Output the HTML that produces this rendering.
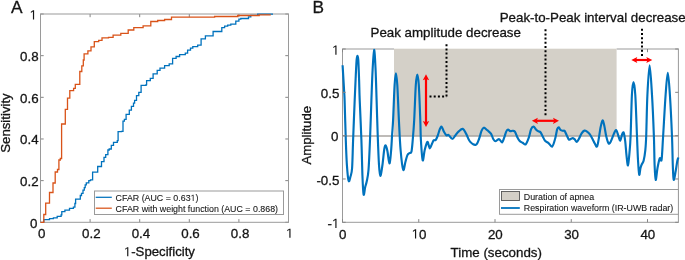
<!DOCTYPE html><html><head><meta charset="utf-8"><style>html,body{margin:0;padding:0;background:#fff;width:685px;height:260px;overflow:hidden}svg{display:block;will-change:transform}text{font-family:"Liberation Sans", sans-serif;fill:#141414;stroke:#141414;stroke-width:0.3px}.lg{stroke-width:0.08px}.o{fill:none;stroke:none}</style></head><body>
<svg width="685" height="260" viewBox="0 0 685 260">
<rect x="0" y="0" width="685" height="260" fill="#fff"/>
<line x1="40.50" y1="222.30" x2="40.50" y2="219.10" stroke="#858585" stroke-width="1"/>
<line x1="40.50" y1="14.00" x2="40.50" y2="17.20" stroke="#858585" stroke-width="1"/>
<line x1="40.50" y1="222.30" x2="43.70" y2="222.30" stroke="#858585" stroke-width="1"/>
<line x1="288.50" y1="222.30" x2="285.30" y2="222.30" stroke="#858585" stroke-width="1"/>
<line x1="90.10" y1="222.30" x2="90.10" y2="219.10" stroke="#858585" stroke-width="1"/>
<line x1="90.10" y1="14.00" x2="90.10" y2="17.20" stroke="#858585" stroke-width="1"/>
<line x1="40.50" y1="180.64" x2="43.70" y2="180.64" stroke="#858585" stroke-width="1"/>
<line x1="288.50" y1="180.64" x2="285.30" y2="180.64" stroke="#858585" stroke-width="1"/>
<line x1="139.70" y1="222.30" x2="139.70" y2="219.10" stroke="#858585" stroke-width="1"/>
<line x1="139.70" y1="14.00" x2="139.70" y2="17.20" stroke="#858585" stroke-width="1"/>
<line x1="40.50" y1="138.98" x2="43.70" y2="138.98" stroke="#858585" stroke-width="1"/>
<line x1="288.50" y1="138.98" x2="285.30" y2="138.98" stroke="#858585" stroke-width="1"/>
<line x1="189.30" y1="222.30" x2="189.30" y2="219.10" stroke="#858585" stroke-width="1"/>
<line x1="189.30" y1="14.00" x2="189.30" y2="17.20" stroke="#858585" stroke-width="1"/>
<line x1="40.50" y1="97.32" x2="43.70" y2="97.32" stroke="#858585" stroke-width="1"/>
<line x1="288.50" y1="97.32" x2="285.30" y2="97.32" stroke="#858585" stroke-width="1"/>
<line x1="238.90" y1="222.30" x2="238.90" y2="219.10" stroke="#858585" stroke-width="1"/>
<line x1="238.90" y1="14.00" x2="238.90" y2="17.20" stroke="#858585" stroke-width="1"/>
<line x1="40.50" y1="55.66" x2="43.70" y2="55.66" stroke="#858585" stroke-width="1"/>
<line x1="288.50" y1="55.66" x2="285.30" y2="55.66" stroke="#858585" stroke-width="1"/>
<line x1="288.50" y1="222.30" x2="288.50" y2="219.10" stroke="#858585" stroke-width="1"/>
<line x1="288.50" y1="14.00" x2="288.50" y2="17.20" stroke="#858585" stroke-width="1"/>
<line x1="40.50" y1="14.00" x2="43.70" y2="14.00" stroke="#858585" stroke-width="1"/>
<line x1="288.50" y1="14.00" x2="285.30" y2="14.00" stroke="#858585" stroke-width="1"/>
<rect x="40.50" y="14.00" width="248.00" height="208.30" fill="none" stroke="#9a9a9a" stroke-width="1"/>
<path d="M43.8,222.3 V219.7 H49.5 V218.6 H53.4 V217.8 H57.2 V216.3 H61.1 V214.8 H61.8 V211.7 H64.9 V210.2 H69.5 V208.3 H73.4 V207.1 H74.9 V203.5 H75.6 V199.1 H80.3 V195.5 H81.5 V193.4 H83 V190.2 H84.3 V187.7 H85.2 V184.9 H86.3 V182.8 H88.8 V180.7 H90.5 V179.8 H92.6 V172.2 H97.7 V166.5 H101.5 V161.6 H104 V157.4 H105.7 V154.7 H107.9 V150 H109.2 V149 H111.3 V145.4 H113.5 V142.3 H117.3 V140.6 H118.1 V131.7 H121.5 V131.3 H123 V121.1 H124.4 V119.4 H126.1 V114.4 H127.8 H129.3 V110.1 H131.4 V106.3 H133.5 V103.2 H134.6 V100.3 H136.5 V95.7 H138.8 V92.3 H141.1 V85.3 H146.1 V84.6 H146.6 V80.7 H150.3 V78.4 H153.1 V73.8 H157.2 V70.4 H160 V68.1 H164.6 V65.7 H169.2 V63.9 H172.6 V58.4 H176.1 V56.5 H179.6 V54.7 H185.3 V53.1 H187.6 V50.1 H190.5 V48.2 H192.8 V46.6 H197.7 V45.1 H201.1 V38.9 H205.4 V35.8 H213.1 V31.5 H221.8 V27.6 H224.6 V26.2 H227.7 V25.1 H230.8 V24.2 H235.8 V21.1 H238.9 V19.2 H240.8 V18.5 H248.5 V16.9 H250.8 V15.4 H257.7 V14.2 H273.0" fill="none" stroke="#0072BD" stroke-width="1.3"/>
<path d="M40.5,222.3 H43.8 V214.5 H45.7 V203.2 H49.5 V192.5 H53 V183 H55.2 V172 H57.5 V169.5 H58.9 V160 H60.3 V158.5 H61.6 V124 H65.3 V109.4 H67.5 V98.2 H69.8 V90.7 H73.6 V88.3 H75.3 V84.3 H79.8 V71.5 H81.8 V65.8 H83.3 V60 H84.1 V53.8 H87.9 V50.8 H91 V46.9 H94.3 V41.7 H98.7 V40.4 H102 V37.9 H108.5 V37.4 H113.1 V35.1 H120.8 V33.4 H128.2 V30 H133.8 V27.7 H143.1 V25.8 H150.8 V21.5 H157.7 V20.5 H164.6 V19.5 H171.5 V17.2 H214.6 V16.5 H237.7 V15.5 H259.2 V14.9 H270.8" fill="none" stroke="#D95319" stroke-width="1.3"/>
<text x="41.70" y="237.80" font-size="13.33" text-anchor="middle">0</text>
<text x="37.40" y="227.70" font-size="13.33" text-anchor="end">0</text>
<text x="91.30" y="237.80" font-size="13.33" text-anchor="middle">0.2</text>
<text x="38.60" y="186.04" font-size="13.33" text-anchor="end">0.2</text>
<text x="140.90" y="237.80" font-size="13.33" text-anchor="middle">0.4</text>
<text x="38.60" y="144.38" font-size="13.33" text-anchor="end">0.4</text>
<text x="190.50" y="237.80" font-size="13.33" text-anchor="middle">0.6</text>
<text x="38.60" y="102.72" font-size="13.33" text-anchor="end">0.6</text>
<text x="240.10" y="237.80" font-size="13.33" text-anchor="middle">0.8</text>
<text x="38.60" y="61.06" font-size="13.33" text-anchor="end">0.8</text>
<text x="289.70" y="237.80" font-size="13.33" text-anchor="middle"><tspan class="o">1</tspan></text>
<text x="37.00" y="19.50" font-size="13.33" text-anchor="end"><tspan class="o">1</tspan></text>
<text x="159.40" y="256.30" font-size="13.20" text-anchor="middle"><tspan class="o">1</tspan>-Specificity</text>
<text x="0.00" y="0.00" font-size="13.20" text-anchor="middle" transform="translate(9.8,123.0) rotate(-90)">Sensitivity</text>
<rect x="94.5" y="191.0" width="189" height="23.5" fill="#fff" stroke="#9a9a9a" stroke-width="1"/>
<line x1="95.7" y1="197.3" x2="111.8" y2="197.3" stroke="#0072BD" stroke-width="1.25"/>
<line x1="95.7" y1="208.2" x2="111.8" y2="208.2" stroke="#D95319" stroke-width="1.25"/>
<text x="115.60" y="200.90" font-size="8.85" text-anchor="start" class="lg">CFAR (AUC = 0.63<tspan class="o">1</tspan>)</text>
<text x="115.60" y="211.90" font-size="8.85" text-anchor="start" class="lg">CFAR with weight function (AUC = 0.868)</text>
<text x="10.90" y="12.80" font-size="17.30" text-anchor="start">A</text>
<rect x="342.50" y="49.00" width="335.90" height="173.30" fill="none" stroke="#9a9a9a" stroke-width="1"/>
<rect x="394" y="47.5" width="222.60" height="3" fill="#fff"/>
<rect x="394" y="48.7" width="222.60" height="87.30" fill="#D4D0C8"/>
<line x1="342.50" y1="136.00" x2="678.40" y2="136.00" stroke="#a8a5a0" stroke-width="1.3"/>
<path d="M342.60,65.30 C342.70,66.98 342.95,71.15 343.20,75.40 C343.45,79.65 343.87,86.70 344.10,90.80 C344.33,94.90 344.32,91.80 344.60,100.00 C344.88,108.20 345.42,129.17 345.80,140.00 C346.18,150.83 346.43,158.20 346.90,165.00 C347.37,171.80 348.00,178.88 348.60,180.80 C349.20,182.72 349.92,178.63 350.50,176.50 C351.08,174.37 351.67,174.08 352.10,168.00 C352.53,161.92 352.67,151.33 353.10,140.00 C353.53,128.67 354.25,110.83 354.70,100.00 C355.15,89.17 355.48,81.67 355.80,75.00 C356.12,68.33 356.33,63.20 356.60,60.00 C356.87,56.80 357.12,55.80 357.40,55.80 C357.68,55.80 358.02,55.97 358.30,60.00 C358.58,64.03 358.87,73.33 359.10,80.00 C359.33,86.67 359.32,90.00 359.70,100.00 C360.08,110.00 360.95,127.50 361.40,140.00 C361.85,152.50 362.03,165.92 362.40,175.00 C362.77,184.08 363.13,192.50 363.60,194.50 C364.07,196.50 364.68,189.17 365.20,187.00 C365.72,184.83 366.15,184.33 366.70,181.50 C367.25,178.67 367.95,176.92 368.50,170.00 C369.05,163.08 369.52,151.67 370.00,140.00 C370.48,128.33 370.97,111.67 371.40,100.00 C371.83,88.33 372.15,78.37 372.60,70.00 C373.05,61.63 373.62,50.13 374.10,49.80 C374.58,49.47 375.08,59.63 375.50,68.00 C375.92,76.37 376.23,88.83 376.60,100.00 C376.97,111.17 377.30,124.17 377.70,135.00 C378.10,145.83 378.57,158.17 379.00,165.00 C379.43,171.83 379.75,175.83 380.30,176.00 C380.85,176.17 381.63,170.50 382.30,166.00 C382.97,161.50 383.73,152.42 384.30,149.00 C384.87,145.58 385.18,145.17 385.70,145.50 C386.22,145.83 386.78,148.00 387.40,151.00 C388.02,154.00 388.80,163.33 389.40,163.50 C390.00,163.67 390.55,156.75 391.00,152.00 C391.45,147.25 391.75,140.33 392.10,135.00 C392.45,129.67 392.68,128.33 393.10,120.00 C393.52,111.67 394.13,92.78 394.60,85.00 C395.07,77.22 395.45,73.30 395.90,73.30 C396.35,73.30 396.80,77.22 397.30,85.00 C397.80,92.78 398.35,109.17 398.90,120.00 C399.45,130.83 399.88,141.72 400.60,150.00 C401.32,158.28 402.40,167.70 403.20,169.70 C404.00,171.70 404.72,164.38 405.40,162.00 C406.08,159.62 406.60,156.90 407.30,155.40 C408.00,153.90 408.90,153.65 409.60,153.00 C410.30,152.35 410.97,153.80 411.50,151.50 C412.03,149.20 412.35,144.45 412.80,139.20 C413.25,133.95 413.70,129.03 414.20,120.00 C414.70,110.97 415.28,92.57 415.80,85.00 C416.32,77.43 416.80,74.60 417.30,74.60 C417.80,74.60 418.30,77.43 418.80,85.00 C419.30,92.57 419.95,110.83 420.30,120.00 C420.65,129.17 420.50,133.28 420.90,140.00 C421.30,146.72 422.07,158.63 422.70,160.30 C423.33,161.97 423.93,153.05 424.70,150.00 C425.47,146.95 426.65,142.83 427.30,142.00 C427.95,141.17 428.17,143.95 428.60,145.00 C429.03,146.05 429.37,148.43 429.90,148.30 C430.43,148.17 431.17,145.53 431.80,144.20 C432.43,142.87 433.05,141.00 433.70,140.30 C434.35,139.60 435.02,140.80 435.70,140.00 C436.38,139.20 437.13,137.25 437.80,135.50 C438.47,133.75 439.07,130.97 439.70,129.50 C440.33,128.03 440.92,126.37 441.60,126.70 C442.28,127.03 443.00,130.07 443.80,131.50 C444.60,132.93 445.62,134.73 446.40,135.30 C447.18,135.87 447.52,134.32 448.50,134.90 C449.48,135.48 451.15,138.72 452.30,138.80 C453.45,138.88 454.37,136.60 455.40,135.40 C456.43,134.20 457.27,132.68 458.50,131.60 C459.73,130.52 461.52,128.52 462.80,128.90 C464.08,129.28 465.00,131.78 466.20,133.90 C467.40,136.02 468.38,139.78 470.00,141.60 C471.62,143.42 474.37,145.32 475.90,144.80 C477.43,144.28 478.27,140.83 479.20,138.50 C480.13,136.17 480.73,132.60 481.50,130.80 C482.27,129.00 482.90,127.83 483.80,127.70 C484.70,127.57 486.20,129.48 486.90,130.00 C487.60,130.52 487.30,130.15 488.00,130.80 C488.70,131.45 490.20,132.50 491.10,133.90 C492.00,135.30 492.63,137.98 493.40,139.20 C494.17,140.42 494.85,141.20 495.70,141.20 C496.55,141.20 497.78,139.40 498.50,139.20 C499.22,139.00 499.38,139.48 500.00,140.00 C500.62,140.52 501.50,142.68 502.20,142.30 C502.90,141.92 503.53,139.48 504.20,137.70 C504.87,135.92 505.57,132.95 506.20,131.60 C506.83,130.25 507.32,129.68 508.00,129.60 C508.68,129.52 509.53,130.90 510.30,131.10 C511.07,131.30 511.83,130.72 512.60,130.80 C513.37,130.88 514.13,130.58 514.90,131.60 C515.67,132.62 516.43,135.37 517.20,136.90 C517.97,138.43 518.60,139.82 519.50,140.80 C520.40,141.78 521.57,142.22 522.60,142.80 C523.63,143.38 524.67,145.15 525.70,144.30 C526.73,143.45 527.90,140.22 528.80,137.70 C529.70,135.18 530.32,131.05 531.10,129.20 C531.88,127.35 532.65,126.52 533.50,126.60 C534.35,126.68 535.37,128.90 536.20,129.70 C537.03,130.50 537.78,130.98 538.50,131.40 C539.22,131.82 539.80,131.37 540.50,132.20 C541.20,133.03 541.93,134.97 542.70,136.40 C543.47,137.83 544.17,139.73 545.10,140.80 C546.03,141.87 547.12,141.85 548.30,142.80 C549.48,143.75 551.05,147.22 552.20,146.50 C553.35,145.78 554.37,141.38 555.20,138.50 C556.03,135.62 556.60,131.05 557.20,129.20 C557.80,127.35 558.23,127.27 558.80,127.40 C559.37,127.53 559.92,129.43 560.60,130.00 C561.28,130.57 562.25,130.67 562.90,130.80 C563.55,130.93 563.85,130.03 564.50,130.80 C565.15,131.57 566.03,133.92 566.80,135.40 C567.57,136.88 568.20,139.23 569.10,139.70 C570.00,140.17 571.30,138.28 572.20,138.20 C573.10,138.12 573.73,138.58 574.50,139.20 C575.27,139.82 576.03,142.02 576.80,141.90 C577.57,141.78 578.30,139.93 579.10,138.50 C579.90,137.07 580.72,134.62 581.60,133.30 C582.48,131.98 583.50,130.88 584.40,130.60 C585.30,130.32 586.12,131.00 587.00,131.60 C587.88,132.20 588.78,132.98 589.70,134.20 C590.62,135.42 591.65,137.35 592.50,138.90 C593.35,140.45 594.05,142.22 594.80,143.50 C595.55,144.78 596.37,147.25 597.00,146.60 C597.63,145.95 598.00,142.82 598.60,139.60 C599.20,136.38 599.95,130.50 600.60,127.30 C601.25,124.10 601.88,120.65 602.50,120.40 C603.12,120.15 603.67,123.10 604.30,125.80 C604.93,128.50 605.58,133.65 606.30,136.60 C607.02,139.55 607.83,142.73 608.60,143.50 C609.37,144.27 610.00,142.87 610.90,141.20 C611.80,139.53 613.10,135.35 614.00,133.50 C614.90,131.65 615.53,129.58 616.30,130.10 C617.07,130.62 617.93,134.87 618.60,136.60 C619.27,138.33 619.70,140.90 620.30,140.50 C620.90,140.10 621.63,135.50 622.20,134.20 C622.77,132.90 623.20,131.53 623.70,132.70 C624.20,133.87 624.73,137.42 625.20,141.20 C625.67,144.98 626.03,151.37 626.50,155.40 C626.97,159.43 627.50,165.90 628.00,165.40 C628.50,164.90 629.07,157.30 629.50,152.40 C629.93,147.50 630.20,145.57 630.60,136.00 C631.00,126.43 631.42,104.00 631.90,95.00 C632.38,86.00 632.93,82.00 633.50,82.00 C634.07,82.00 634.72,85.92 635.30,95.00 C635.88,104.08 636.55,125.67 637.00,136.50 C637.45,147.33 637.63,153.65 638.00,160.00 C638.37,166.35 638.78,173.27 639.20,174.60 C639.62,175.93 640.07,169.73 640.50,168.00 C640.93,166.27 641.28,165.40 641.80,164.20 C642.32,163.00 643.02,163.10 643.60,160.80 C644.18,158.50 644.87,154.53 645.30,150.40 C645.73,146.27 645.85,145.23 646.20,136.00 C646.55,126.77 646.83,106.78 647.40,95.00 C647.97,83.22 648.83,65.30 649.60,65.30 C650.37,65.30 651.28,83.13 652.00,95.00 C652.72,106.87 653.47,124.83 653.90,136.50 C654.33,148.17 654.30,157.75 654.60,165.00 C654.90,172.25 655.22,179.50 655.70,180.00 C656.18,180.50 656.82,171.63 657.50,168.00 C658.18,164.37 659.12,159.62 659.80,158.20 C660.48,156.78 661.05,163.12 661.60,159.50 C662.15,155.88 662.43,147.25 663.10,136.50 C663.77,125.75 664.82,105.63 665.60,95.00 C666.38,84.37 667.08,72.70 667.80,72.70 C668.52,72.70 669.20,84.37 669.90,95.00 C670.60,105.63 671.52,124.83 672.00,136.50 C672.48,148.17 672.52,157.80 672.80,165.00 C673.08,172.20 673.22,178.70 673.70,179.70 C674.18,180.70 675.10,174.12 675.70,171.00 C676.30,167.88 676.85,163.25 677.30,161.00 C677.75,158.75 678.22,158.08 678.40,157.50" fill="none" stroke="#0072BD" stroke-width="2.15" stroke-linejoin="round"/>
<line x1="342.50" y1="222.30" x2="342.50" y2="219.10" stroke="#858585" stroke-width="1"/>
<line x1="342.50" y1="49.00" x2="342.50" y2="52.20" stroke="#858585" stroke-width="1"/>
<line x1="418.75" y1="222.30" x2="418.75" y2="219.10" stroke="#858585" stroke-width="1"/>
<line x1="495.00" y1="222.30" x2="495.00" y2="219.10" stroke="#858585" stroke-width="1"/>
<line x1="571.25" y1="222.30" x2="571.25" y2="219.10" stroke="#858585" stroke-width="1"/>
<line x1="647.50" y1="222.30" x2="647.50" y2="219.10" stroke="#858585" stroke-width="1"/>
<line x1="647.50" y1="49.00" x2="647.50" y2="52.20" stroke="#858585" stroke-width="1"/>
<line x1="342.50" y1="222.30" x2="345.70" y2="222.30" stroke="#858585" stroke-width="1"/>
<line x1="678.40" y1="222.30" x2="675.20" y2="222.30" stroke="#858585" stroke-width="1"/>
<line x1="342.50" y1="178.98" x2="345.70" y2="178.98" stroke="#858585" stroke-width="1"/>
<line x1="678.40" y1="178.98" x2="675.20" y2="178.98" stroke="#858585" stroke-width="1"/>
<line x1="342.50" y1="135.65" x2="345.70" y2="135.65" stroke="#858585" stroke-width="1"/>
<line x1="678.40" y1="135.65" x2="675.20" y2="135.65" stroke="#858585" stroke-width="1"/>
<line x1="342.50" y1="92.33" x2="345.70" y2="92.33" stroke="#858585" stroke-width="1"/>
<line x1="678.40" y1="92.33" x2="675.20" y2="92.33" stroke="#858585" stroke-width="1"/>
<line x1="342.50" y1="49.00" x2="345.70" y2="49.00" stroke="#858585" stroke-width="1"/>
<line x1="678.40" y1="49.00" x2="675.20" y2="49.00" stroke="#858585" stroke-width="1"/>
<text x="342.80" y="238.50" font-size="13.33" text-anchor="middle">0</text>
<text x="419.05" y="238.50" font-size="13.33" text-anchor="middle"><tspan class="o">1</tspan>0</text>
<text x="495.30" y="238.50" font-size="13.33" text-anchor="middle">20</text>
<text x="571.55" y="238.50" font-size="13.33" text-anchor="middle">30</text>
<text x="647.80" y="238.50" font-size="13.33" text-anchor="middle">40</text>
<text x="339.40" y="228.00" font-size="13.33" text-anchor="end">-<tspan class="o">1</tspan></text>
<text x="339.40" y="184.68" font-size="13.33" text-anchor="end">-0.5</text>
<text x="338.30" y="141.35" font-size="13.33" text-anchor="end">0</text>
<text x="339.40" y="98.03" font-size="13.33" text-anchor="end">0.5</text>
<text x="339.40" y="54.70" font-size="13.33" text-anchor="end"><tspan class="o">1</tspan></text>
<text x="496.30" y="256.90" font-size="13.33" text-anchor="middle">Time (seconds)</text>
<text x="0.00" y="0.00" font-size="13.20" text-anchor="middle" transform="translate(310.5,135.2) rotate(-90)">Amplitude</text>
<rect x="499.5" y="189.5" width="178.9" height="24.8" fill="#fff" stroke="#9a9a9a" stroke-width="1"/>
<rect x="501.5" y="191.5" width="18" height="9" fill="#D4D0C8" stroke="#555" stroke-width="0.9"/>
<line x1="501" y1="208" x2="519.8" y2="208" stroke="#0072BD" stroke-width="1.8"/>
<text x="523.80" y="200.00" font-size="8.85" text-anchor="start" class="lg">Duration of apnea</text>
<text x="523.80" y="211.20" font-size="8.85" text-anchor="start" class="lg">Respiration waveform (IR-UWB radar)</text>
<line x1="446.5" y1="44.2" x2="446.5" y2="97.0" stroke="#000" stroke-width="2" stroke-dasharray="2 2.2"/>
<line x1="429.5" y1="96.6" x2="446.5" y2="96.6" stroke="#000" stroke-width="2" stroke-dasharray="2 2.2"/>
<line x1="545.5" y1="29.2" x2="545.5" y2="117.0" stroke="#000" stroke-width="2" stroke-dasharray="2 2.2"/>
<line x1="642.0" y1="28.8" x2="642.0" y2="56.0" stroke="#000" stroke-width="2" stroke-dasharray="2 2.2"/>
<line x1="426.0" y1="78.5" x2="426.0" y2="122.7" stroke="#FF0000" stroke-width="2.2"/><polygon points="426.00,74.20 429.20,80.20 426.00,79.00 422.80,80.20" fill="#FF0000"/><polygon points="426.00,127.00 429.20,121.00 426.00,122.20 422.80,121.00" fill="#FF0000"/>
<line x1="536.2" y1="120.8" x2="554.7" y2="120.8" stroke="#FF0000" stroke-width="2.2"/><polygon points="531.90,120.80 537.90,117.70 536.70,120.80 537.90,123.90" fill="#FF0000"/><polygon points="559.00,120.80 553.00,117.70 554.20,120.80 553.00,123.90" fill="#FF0000"/>
<line x1="635.6" y1="60.0" x2="648.0" y2="60.0" stroke="#FF0000" stroke-width="2.2"/><polygon points="631.30,60.00 637.30,56.90 636.10,60.00 637.30,63.10" fill="#FF0000"/><polygon points="652.30,60.00 646.30,56.90 647.50,60.00 646.30,63.10" fill="#FF0000"/>
<text x="370.50" y="36.90" font-size="13.33" text-anchor="start">Peak amplitude decrease</text>
<text x="499.70" y="21.70" font-size="13.33" text-anchor="start">Peak-to-Peak interval decrease</text>
<text x="312.40" y="12.70" font-size="17.30" text-anchor="start">B</text>
<path d="M515,0V1237L197,1010V1180L530,1409H696V0Z" fill="#141414" stroke="#141414" stroke-width="46.1" stroke-opacity="0" transform="translate(285.99,237.80) scale(0.00651,-0.00651)"/>
<path d="M515,0V1237L197,1010V1180L530,1409H696V0Z" fill="#141414" stroke="#141414" stroke-width="46.1" stroke-opacity="0" transform="translate(29.58,19.50) scale(0.00651,-0.00651)"/>
<path d="M515,0V1237L197,1010V1180L530,1409H696V0Z" fill="#141414" stroke="#141414" stroke-width="46.5" stroke-opacity="0" transform="translate(123.85,256.30) scale(0.00645,-0.00645)"/>
<path d="M515,0V1237L197,1010V1180L530,1409H696V0Z" fill="#141414" stroke="#141414" stroke-width="69.4" stroke-opacity="0" transform="translate(190.55,200.90) scale(0.00432,-0.00432)"/>
<path d="M515,0V1237L197,1010V1180L530,1409H696V0Z" fill="#141414" stroke="#141414" stroke-width="46.1" stroke-opacity="0" transform="translate(411.63,238.50) scale(0.00651,-0.00651)"/>
<path d="M515,0V1237L197,1010V1180L530,1409H696V0Z" fill="#141414" stroke="#141414" stroke-width="46.1" stroke-opacity="0" transform="translate(331.98,228.00) scale(0.00651,-0.00651)"/>
<path d="M515,0V1237L197,1010V1180L530,1409H696V0Z" fill="#141414" stroke="#141414" stroke-width="46.1" stroke-opacity="0" transform="translate(331.98,54.70) scale(0.00651,-0.00651)"/>
</svg></body></html>
